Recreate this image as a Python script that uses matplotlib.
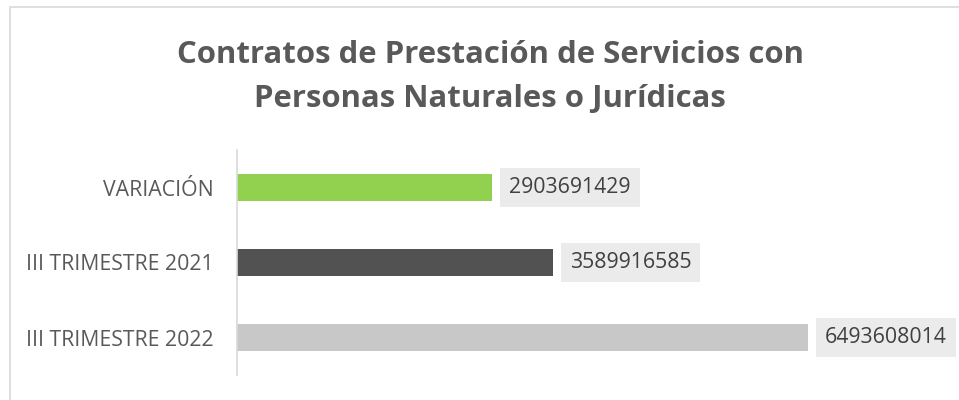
import matplotlib.pyplot as plt
from matplotlib.patches import Rectangle

# ----- Data -----
categories = ["III TRIMESTRE 2022", "III TRIMESTRE 2021", "VARIACIÓN"]
values = [6493608014, 3589916585, 2903691429]
colors = ["#C8C8C8", "#525252", "#92D050"]
title = "Contratos de Prestación de Servicios con\nPersonas Naturales o Jurídicas"

plt.rcParams["font.family"] = ["Open Sans", "DejaVu Sans"]

fig = plt.figure(figsize=(9.59, 4.0), dpi=100)

# outer chart border (cut off at right and bottom like the original)
fig.patches.append(Rectangle((9.5 / 959, -0.1), 1.2, 1 - 6.5 / 400 + 0.1,
                             transform=fig.transFigure, fill=False,
                             edgecolor="#D9D9D9", linewidth=1.2))

xmax = 7e9
ax_w = xmax * 571 / 6493608014 / 959
ax = fig.add_axes([237 / 959, 25 / 400, ax_w, 225 / 400])

y = range(len(categories))
ax.barh(y, values, height=0.36, color=colors)
ax.set_xlim(0, xmax)
ax.set_ylim(-0.5, 2.5)

ax.set_yticks(list(y))
ax.set_yticklabels(categories, fontsize=15.3, color="#595959")
ax.tick_params(axis="y", length=0, pad=16.5)
ax.set_xticks([])
for s in ["top", "right", "bottom"]:
    ax.spines[s].set_visible(False)
ax.spines["left"].set_color("#D9D9D9")
ax.spines["left"].set_linewidth(1.2)

for yi, v in zip(y, values):
    ax.annotate(str(v), xy=(v, yi), xytext=(17, 0), textcoords="offset pixels",
                ha="left", va="center", fontsize=15.3, color="#404040", clip_on=False,
                bbox=dict(boxstyle="square,pad=0.42", facecolor="#EBEBEB", edgecolor="none"))

fig.text(0.511, 0.808, title, ha="center", va="center", fontsize=22.4,
         fontweight="bold", color="#595959", linespacing=1.6)

fig.savefig("out.png", dpi=100)
